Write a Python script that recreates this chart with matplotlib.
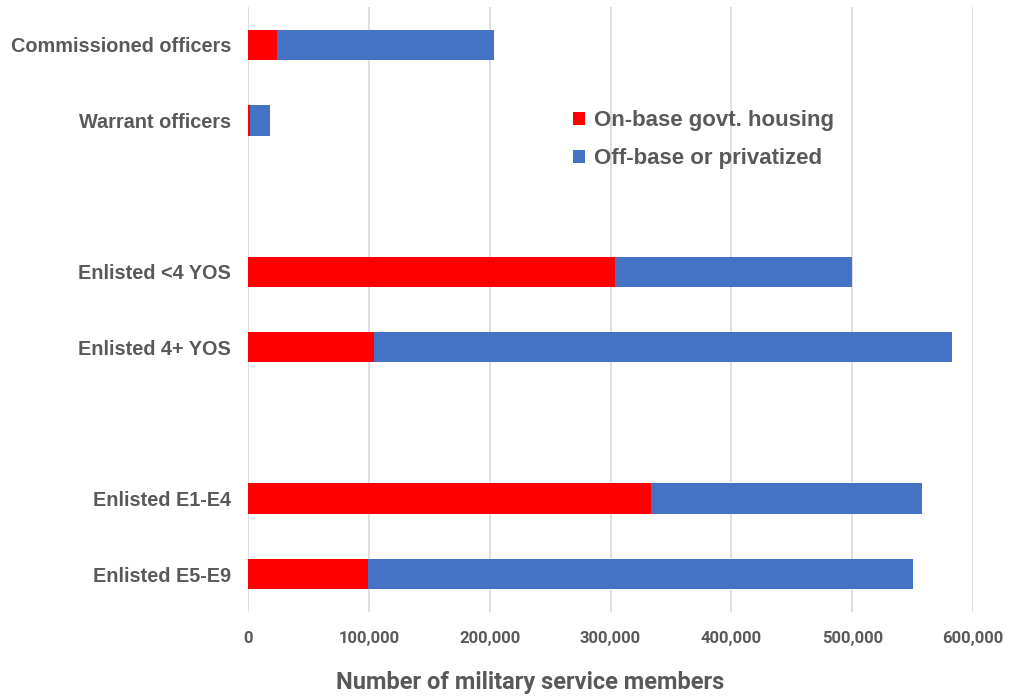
import matplotlib.pyplot as plt
from matplotlib.patches import Rectangle
from matplotlib.ticker import FuncFormatter

plt.rcParams['font.family'] = ['Liberation Sans', 'DejaVu Sans']

categories = ["Commissioned officers", "Warrant officers",
              "Enlisted <4 YOS", "Enlisted 4+ YOS",
              "Enlisted E1-E4", "Enlisted E5-E9"]
slots = [0, 1, 3, 4, 6, 7]
on_base = [24000, 1500, 304000, 104500, 333500, 99500]
total = [203500, 18500, 499500, 583000, 557500, 550500]
off_base = [t - o for t, o in zip(total, on_base)]
xticks = [0, 100000, 200000, 300000, 400000, 500000, 600000]

text_gray = "#595959"
red = "#FF0000"
blue = "#4472C4"

fig = plt.figure(figsize=(10.14, 6.96), dpi=100)
ax = fig.add_axes([0.2446, 0.1207, 0.715, 0.8693])

ax.barh(slots, on_base, height=0.4, color=red, label="On-base govt. housing", zorder=3)
ax.barh(slots, off_base, left=on_base, height=0.4, color=blue,
        label="Off-base or privatized", zorder=3)

ax.set_ylim(7.5, -0.5)
ax.set_xlim(0, 600000)
ax.set_xticks(xticks)
ax.xaxis.set_major_formatter(FuncFormatter(lambda v, p: f"{int(v):,}"))
ax.set_yticks(slots)
ax.set_yticklabels(categories)
for lbl in ax.get_yticklabels():
    lbl.set_fontsize(14.3)
    lbl.set_fontweight("bold")
    lbl.set_color(text_gray)
for lbl in ax.get_xticklabels():
    lbl.set_fontsize(12)
    lbl.set_fontfamily(['Roboto', 'Liberation Sans'])
    lbl.set_fontweight("bold")
    lbl.set_color(text_gray)

ax.tick_params(axis="both", length=0)
ax.tick_params(axis="x", pad=14)
ax.tick_params(axis="y", pad=12)
ax.grid(axis="x", color="#D9D9D9", linewidth=1.2, zorder=0)
for s in ax.spines.values():
    s.set_visible(False)

ax.set_xlabel("Number of military service members", fontsize=17, fontweight="bold",
              color=text_gray, fontfamily=['Roboto', 'Liberation Sans'], va="center")
ax.xaxis.set_label_coords(0.389, -0.117)

# legend sits on a white panel that hides the gridlines behind it
ax.add_patch(Rectangle((0.42, 0.664), 0.38, 0.182, transform=ax.transAxes,
                       facecolor="white", edgecolor="none", zorder=1))
leg = ax.legend(loc="upper left", bbox_to_anchor=(0.545, 0.87),
                bbox_transform=fig.transFigure, frameon=False,
                handlelength=0.55, handleheight=0.55, handletextpad=0.4,
                labelspacing=0.75, prop={"size": 16, "weight": "bold"})
for t in leg.get_texts():
    t.set_color(text_gray)

fig.savefig("out.png", dpi=100)
